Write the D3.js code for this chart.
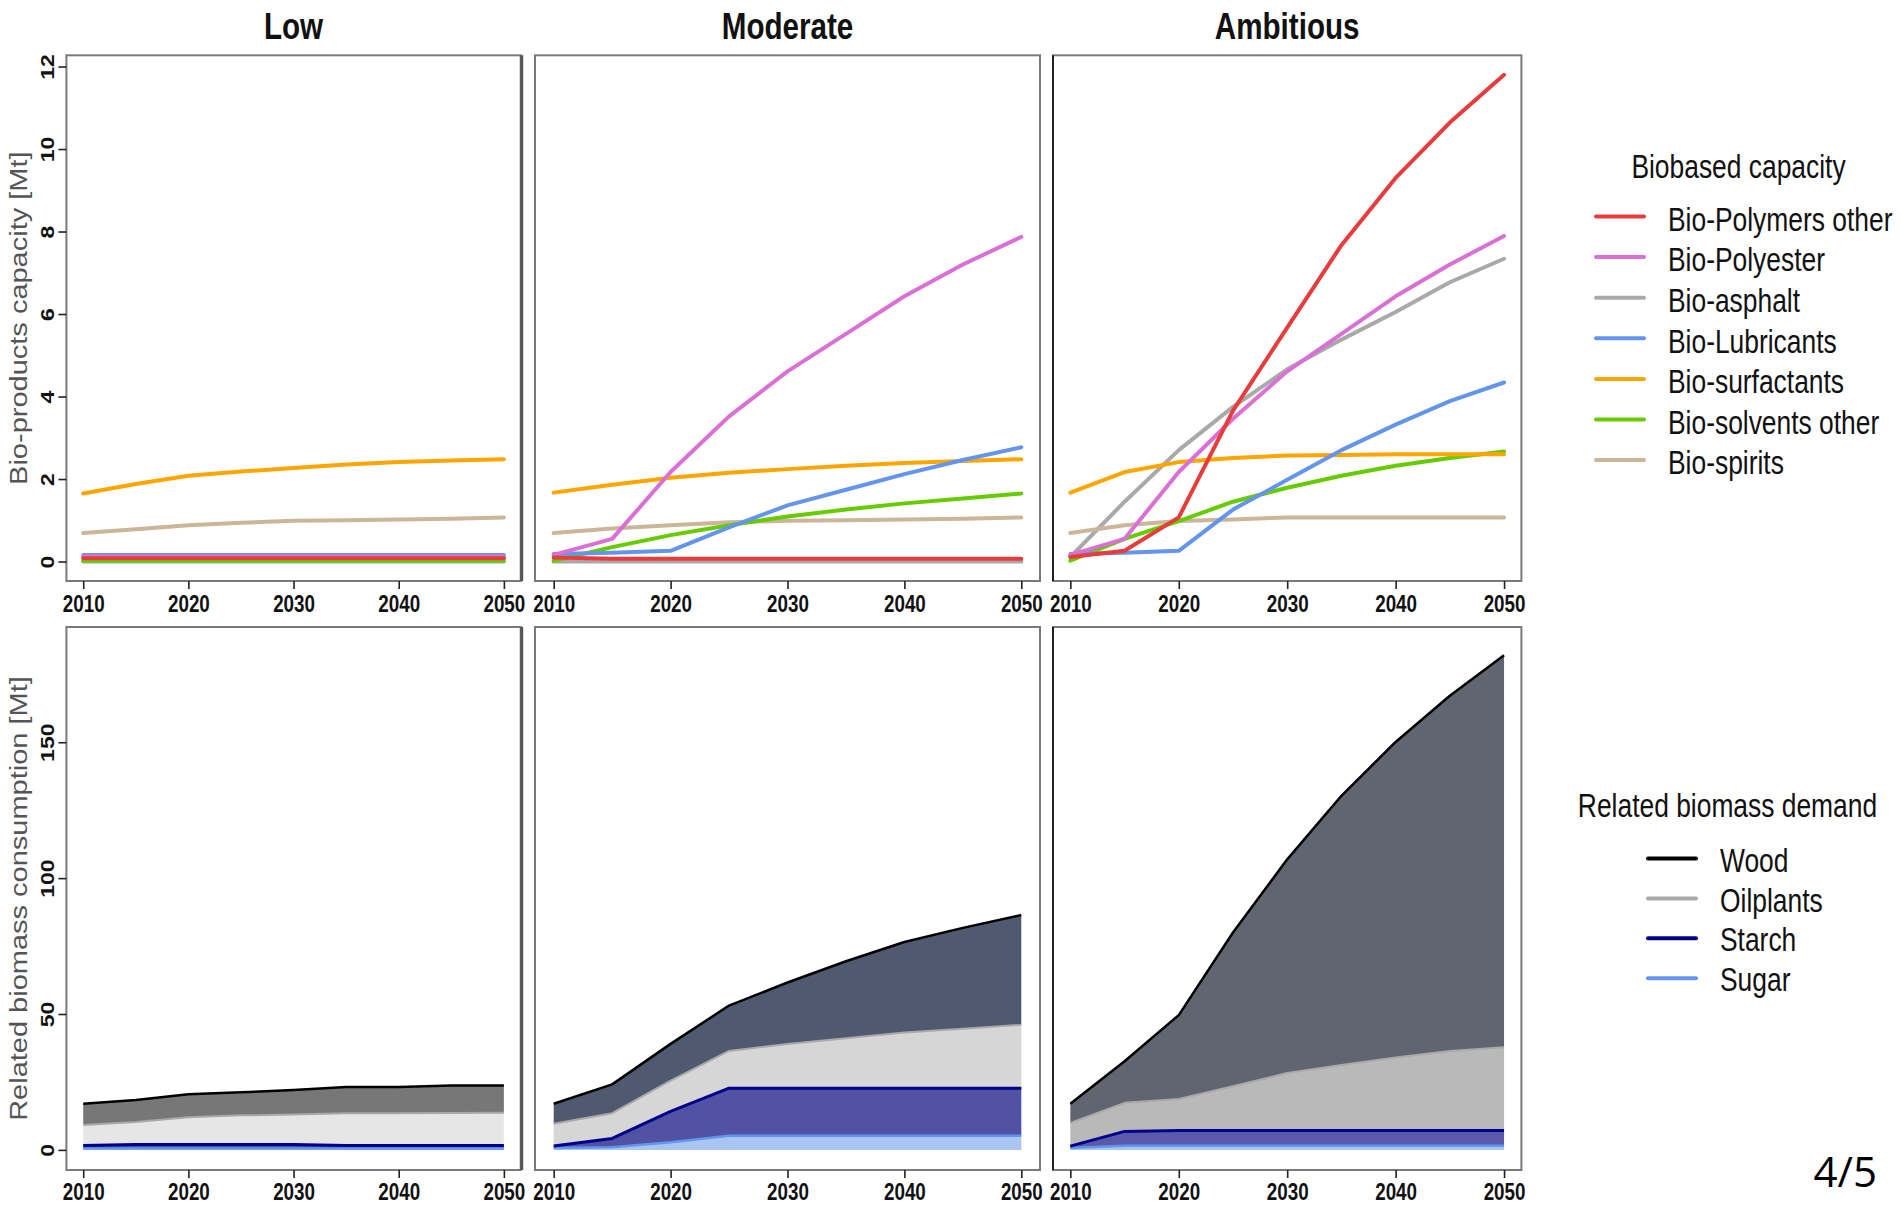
<!DOCTYPE html>
<html>
<head>
<meta charset="utf-8">
<script src="https://cdn.jsdelivr.net/npm/d3@7"></script>
<style>
  html, body { margin: 0; padding: 0; background: #fff; }
  svg { display: block; }
</style>
</head>
<body>
<svg id="chart" width="1903" height="1205"></svg>
<script>
// ---------------------------------------------------------------------------
// Data: bio-based product capacity and the biomass it requires, per scenario
// ---------------------------------------------------------------------------
const years = [2010, 2015, 2020, 2025, 2030, 2035, 2040, 2045, 2050];
const scenarios = ["Low", "Moderate", "Ambitious"];

const capacitySeries = ["Bio-Polymers other", "Bio-Polyester", "Bio-asphalt",
  "Bio-Lubricants", "Bio-surfactants", "Bio-solvents other", "Bio-spirits"];

// Capacity [Mt], one row per entry of capacitySeries
const capacityLow = [
  [0.08, 0.08, 0.08, 0.08, 0.08, 0.08, 0.08, 0.08, 0.08],
  [0.12, 0.12, 0.12, 0.12, 0.12, 0.12, 0.12, 0.12, 0.12],
  [0, 0, 0, 0, 0, 0, 0, 0, 0],
  [0.16, 0.16, 0.16, 0.16, 0.16, 0.16, 0.16, 0.16, 0.16],
  [1.65, 1.88, 2.08, 2.18, 2.27, 2.35, 2.41, 2.45, 2.48],
  [0.02, 0.02, 0.02, 0.02, 0.02, 0.02, 0.02, 0.02, 0.02],
  [0.69, 0.78, 0.88, 0.94, 0.99, 1.0, 1.02, 1.04, 1.07]
];
const capacityModerate = [
  [0.1, 0.07, 0.07, 0.07, 0.07, 0.07, 0.07, 0.07, 0.07],
  [0.16, 0.55, 2.17, 3.52, 4.61, 5.52, 6.43, 7.2, 7.87],
  [0, 0, 0, 0, 0, 0, 0, 0, 0],
  [0.18, 0.21, 0.26, 0.83, 1.36, 1.74, 2.12, 2.46, 2.77],
  [1.67, 1.86, 2.03, 2.15, 2.24, 2.32, 2.39, 2.44, 2.48],
  [0.02, 0.35, 0.64, 0.88, 1.09, 1.26, 1.41, 1.53, 1.65],
  [0.69, 0.8, 0.88, 0.95, 0.99, 1.0, 1.02, 1.04, 1.07]
];
const capacityAmbitious = [
  [0.11, 0.26, 1.07, 3.66, 5.67, 7.67, 9.3, 10.64, 11.8],
  [0.16, 0.55, 2.17, 3.46, 4.61, 5.52, 6.43, 7.2, 7.89],
  [0.11, 1.45, 2.7, 3.75, 4.66, 5.38, 6.05, 6.77, 7.34],
  [0.18, 0.21, 0.26, 1.26, 1.98, 2.7, 3.32, 3.89, 4.34],
  [1.67, 2.17, 2.41, 2.51, 2.57, 2.58, 2.6, 2.6, 2.6],
  [0.02, 0.55, 0.98, 1.45, 1.79, 2.08, 2.32, 2.51, 2.67],
  [0.69, 0.88, 0.98, 1.02, 1.07, 1.07, 1.07, 1.07, 1.07]
];

const demandSeries = ["Wood", "Oilplants", "Starch", "Sugar"];

// Biomass demand [Mt] of each feedstock, one row per entry of demandSeries
const demandLow = [
  [7.8, 8.1, 8.5, 8.5, 9.0, 9.6, 9.6, 10.1, 10.0],
  [7.6, 8.3, 10.0, 10.7, 11.0, 11.9, 11.9, 12.0, 12.1],
  [1.1, 1.5, 1.5, 1.5, 1.5, 1.1, 1.1, 1.1, 1.1],
  [0.5, 0.5, 0.5, 0.5, 0.5, 0.5, 0.5, 0.5, 0.5]
];
const demandModerate = [
  [7.4, 10.6, 13.5, 16.7, 22.6, 28.3, 33.3, 37.1, 40.4],
  [8.2, 9.3, 11.3, 13.7, 16.3, 18.4, 20.5, 21.9, 23.3],
  [0.7, 3.2, 11.4, 17.5, 17.5, 17.5, 17.5, 17.5, 17.5],
  [0.7, 1.0, 2.8, 5.2, 5.2, 5.2, 5.2, 5.2, 5.2]
];
const demandAmbitious = [
  [7.1, 15.3, 30.9, 56.6, 78.6, 99.1, 116.1, 130.7, 144.2],
  [8.5, 10.5, 11.6, 16.3, 21.2, 24.1, 26.9, 29.3, 30.7],
  [0.7, 5.3, 5.6, 5.6, 5.6, 5.6, 5.6, 5.6, 5.6],
  [0.7, 1.5, 1.5, 1.5, 1.5, 1.5, 1.5, 1.5, 1.5]
];

const yearTicks = [2010, 2020, 2030, 2040, 2050];
const capacityTicks = [0, 2, 4, 6, 8, 10, 12];
const demandTicks = [0, 50, 100, 150];
const demandAxisMax = 185;

const capacityData = [capacityLow, capacityModerate, capacityAmbitious];
const demandData = [demandLow, demandModerate, demandAmbitious];

// ---------------------------------------------------------------------------
// Styling and layout
// ---------------------------------------------------------------------------
const capacityColors = ["#e83c3c", "#da70d6", "#a9a9a9", "#6495ed", "#ffa500", "#66cc00", "#cdb59a"];
const capacityDrawOrder = [2, 6, 5, 4, 3, 1, 0];
const demandLineColors = ["#000000", "#a9a9a9", "#00008b", "#6495ed"];
const demandFills = [
  ["#777777", "#e6e6e6", "#4f4fa3", "#a9c6f2"],
  ["#4f5a70", "#d6d6d6", "#5252a5", "#a9c6f2"],
  ["#60656f", "#b9b9b9", "#5a5aad", "#a9c6f2"]
];
const demandLineWidths = [2.5, 2, 3, 2.5];

const panelX = [[66.4, 520.7], [535, 1040], [1053, 1521.4]];
const topRow = [55.3, 581];
const bottomRow = [627, 1170];

const FONT = "'Liberation Sans', Arial, Helvetica, sans-serif";
const SQ = 0.8;   // horizontal compression of the lettering

const svg = d3.select("#chart");
svg.append("rect").attr("width", 1903).attr("height", 1205).attr("fill", "#fff");

function label(parent, x, y, str, o = {}) {
  return parent.append("text")
    .attr("transform", `translate(${x},${y}) scale(${o.sx ?? SQ},1)` + (o.rotate ? " rotate(-90)" : ""))
    .attr("text-anchor", o.anchor || "start")
    .attr("font-family", o.family || FONT)
    .attr("font-size", o.size || 20)
    .attr("font-weight", o.weight || "normal")
    .attr("fill", o.color || "#111")
    .text(str);
}

// ---------------------------------------------------------------------------
// Scales
// ---------------------------------------------------------------------------
const yearExt = d3.extent(years);
const yearPad = (yearExt[1] - yearExt[0]) * 0.04;
const xScales = panelX.map(([a, b]) =>
  d3.scaleLinear().domain([yearExt[0] - yearPad, yearExt[1] + yearPad]).range([a, b]));

const capMax = d3.max(capacityData.flat(2));
const yCap = d3.scaleLinear().domain([-capMax * 0.04, capMax * 1.04]).range([topRow[1], topRow[0]]);
const yDem = d3.scaleLinear().domain([-demandAxisMax * 0.04, demandAxisMax * 1.04]).range([bottomRow[1], bottomRow[0]]);

function styleBottomAxis(g, offset) {
  g.select(".domain").remove();
  g.selectAll(".tick line").attr("stroke", "#222").attr("stroke-width", 1.6);
  g.selectAll(".tick text")
    .attr("y", null).attr("dy", null)
    .attr("fill", "#111")
    .attr("transform", `translate(0,${offset}) scale(${SQ},1)`);
  g.attr("font-family", FONT).attr("font-size", 23.5).attr("font-weight", "bold");
}

function styleLeftAxis(g) {
  g.select(".domain").remove();
  g.selectAll(".tick line").attr("stroke", "#222").attr("stroke-width", 1.6);
  g.selectAll(".tick text")
    .attr("x", null).attr("dy", null)
    .attr("fill", "#111")
    .attr("text-anchor", "middle")
    .attr("transform", `translate(-12.8,0) scale(${SQ},1) rotate(-90)`);
  g.attr("font-family", FONT).attr("font-size", 23).attr("font-weight", "bold");
}

function drawBox(g, x0, x1, y0, y1, leftColor) {
  g.append("rect")
    .attr("x", x0).attr("y", y0).attr("width", x1 - x0).attr("height", y1 - y0)
    .attr("fill", "none").attr("stroke", "#7a7a7a").attr("stroke-width", 2);
  if (leftColor) {
    g.append("line").attr("x1", x0).attr("x2", x0).attr("y1", y0).attr("y2", y1)
      .attr("stroke", leftColor).attr("stroke-width", 2);
  }
}

// ---------------------------------------------------------------------------
// Top row: capacity lines
// ---------------------------------------------------------------------------
scenarios.forEach((name, i) => {
  const x = xScales[i];
  const g = svg.append("g").attr("class", "capacity-panel");
  const line = d3.line().x((d, j) => x(years[j])).y(d => yCap(d));

  capacityDrawOrder.forEach(k => {
    g.append("path")
      .datum(capacityData[i][k])
      .attr("d", line)
      .attr("fill", "none")
      .attr("stroke", capacityColors[k])
      .attr("stroke-width", 4)
      .attr("stroke-linejoin", "round")
      .attr("stroke-linecap", "round");
  });

  drawBox(g, panelX[i][0], panelX[i][1], topRow[0], topRow[1], i === 2 ? "#222" : null);
  if (i === 0) {
    g.append("line").attr("x1", panelX[i][1] + 1).attr("x2", panelX[i][1] + 1)
      .attr("y1", topRow[0]).attr("y2", topRow[1]).attr("stroke", "#555").attr("stroke-width", 3);
  }

  const ax = g.append("g").attr("transform", `translate(0,${topRow[1]})`)
    .call(d3.axisBottom(x).tickValues(yearTicks).tickFormat(d3.format("d")).tickSize(8).tickSizeOuter(0));
  styleBottomAxis(ax, 31);

  if (i === 0) {
    const ay = g.append("g").attr("transform", `translate(${panelX[0][0]},0)`)
      .call(d3.axisLeft(yCap).tickValues(capacityTicks).tickSize(8).tickSizeOuter(0));
    styleLeftAxis(ay);
    label(g, 27, (topRow[0] + topRow[1]) / 2, "Bio-products capacity [Mt]",
      { rotate: true, anchor: "middle", size: 29, color: "#555" });
  }

  label(g, (panelX[i][0] + panelX[i][1]) / 2, 38.7, name,
    { anchor: "middle", size: 37, weight: "bold", color: "#111" });
});

// ---------------------------------------------------------------------------
// Bottom row: stacked biomass demand
// ---------------------------------------------------------------------------
const stackKeys = [3, 2, 1, 0];   // Sugar at the bottom, Wood on top

scenarios.forEach((name, i) => {
  const x = xScales[i];
  const g = svg.append("g").attr("class", "demand-panel");
  const rows = years.map((yr, j) => {
    const r = { year: yr };
    demandData[i].forEach((arr, k) => { r[k] = arr[j]; });
    return r;
  });
  const layers = d3.stack().keys(stackKeys)(rows);

  const area = d3.area()
    .x(d => x(d.data.year))
    .y0(d => yDem(d[0]))
    .y1(d => yDem(d[1]));
  const topLine = d3.line().x(d => x(d.data.year)).y(d => yDem(d[1]));

  layers.forEach(layer => {
    g.append("path").datum(layer).attr("d", area)
      .attr("fill", demandFills[i][layer.key]).attr("stroke", "none");
  });
  layers.forEach(layer => {
    g.append("path").datum(layer).attr("d", topLine)
      .attr("fill", "none")
      .attr("stroke", demandLineColors[layer.key])
      .attr("stroke-width", demandLineWidths[layer.key])
      .attr("stroke-linejoin", "round");
  });

  drawBox(g, panelX[i][0], panelX[i][1], bottomRow[0], bottomRow[1], i === 2 ? "#222" : null);
  if (i === 0) {
    g.append("line").attr("x1", panelX[i][1] + 1).attr("x2", panelX[i][1] + 1)
      .attr("y1", bottomRow[0]).attr("y2", bottomRow[1]).attr("stroke", "#555").attr("stroke-width", 3);
  }

  const ax = g.append("g").attr("transform", `translate(0,${bottomRow[1]})`)
    .call(d3.axisBottom(x).tickValues(yearTicks).tickFormat(d3.format("d")).tickSize(8).tickSizeOuter(0));
  styleBottomAxis(ax, 30);

  if (i === 0) {
    const ay = g.append("g").attr("transform", `translate(${panelX[0][0]},0)`)
      .call(d3.axisLeft(yDem).tickValues(demandTicks).tickSize(8).tickSizeOuter(0));
    styleLeftAxis(ay);
    label(g, 27, (bottomRow[0] + bottomRow[1]) / 2, "Related biomass consumption [Mt]",
      { rotate: true, anchor: "middle", size: 29, color: "#555" });
  }
});

// ---------------------------------------------------------------------------
// Legends
// ---------------------------------------------------------------------------
const leg1 = svg.append("g").attr("class", "legend-capacity");
label(leg1, 1738.5, 178.3, "Biobased capacity", { anchor: "middle", size: 33 });
capacitySeries.forEach((s, k) => {
  const yl = 216.5 + k * 40.6;
  leg1.append("line").attr("x1", 1596).attr("x2", 1644).attr("y1", yl).attr("y2", yl)
    .attr("stroke", capacityColors[k]).attr("stroke-width", 4).attr("stroke-linecap", "round");
  label(leg1, 1668, 230.7 + k * 40.6, s, { size: 33 });
});

const leg2 = svg.append("g").attr("class", "legend-demand");
label(leg2, 1727.5, 817.3, "Related biomass demand", { anchor: "middle", size: 33 });
demandSeries.forEach((s, k) => {
  const yl = 858.5 + k * 39.9;
  leg2.append("line").attr("x1", 1648).attr("x2", 1696).attr("y1", yl).attr("y2", yl)
    .attr("stroke", demandLineColors[k]).attr("stroke-width", 4).attr("stroke-linecap", "round");
  label(leg2, 1720, 872 + k * 39.5, s, { size: 33 });
});

// Slide page number
label(svg, 1877, 1187, "4/5", { anchor: "end", size: 42, sx: 1, family: "'Open Sans', sans-serif", color: "#000" });
</script>
</body>
</html>
